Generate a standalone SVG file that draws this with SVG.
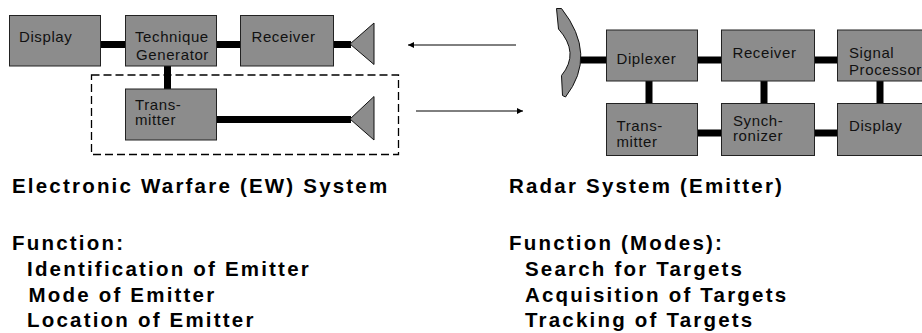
<svg xmlns="http://www.w3.org/2000/svg" width="922" height="333" viewBox="0 0 922 333">
<style>
.box{fill:#8c8c8c;stroke:#222;stroke-width:1}
.ant{fill:#8c8c8c;stroke:#111;stroke-width:1}
.lbl{font-family:"Liberation Sans",Arial,sans-serif;font-size:15px;fill:#111;letter-spacing:0.6px}
.wire{stroke:#000;stroke-width:7;fill:none}
.thin{stroke:#000;stroke-width:1;fill:none}
.big{font-family:"Liberation Sans",Arial,sans-serif;font-size:20.5px;font-weight:bold;fill:#000;letter-spacing:2.2px}
</style>
<defs>
<marker id="ah" viewBox="0 0 10 10" refX="10" refY="5" markerWidth="8" markerHeight="6" markerUnits="userSpaceOnUse" orient="auto"><path d="M0,0 L10,5 L0,10 Z" fill="#000"/></marker>
</defs>
<g id="connectors">
<line class="wire" x1="100" y1="44.5" x2="126" y2="44.5"/>
<line class="wire" x1="216" y1="44.5" x2="241" y2="44.5"/>
<line class="wire" x1="333" y1="44.5" x2="351" y2="44.5"/>
<line class="wire" x1="167.5" y1="66" x2="167.5" y2="89"/>
<line class="wire" x1="216" y1="119.5" x2="351" y2="119.5"/>
<rect x="91.5" y="75" width="307" height="79.5" fill="none" stroke="#000" stroke-width="1.3" stroke-dasharray="8,4"/>
<line class="thin" x1="516" y1="45" x2="408" y2="45" marker-end="url(#ah)"/>
<line class="thin" x1="416" y1="111" x2="523" y2="111" marker-end="url(#ah)"/>
<line class="wire" x1="578" y1="60" x2="607" y2="60"/>
<line class="wire" x1="697" y1="60" x2="722" y2="60"/>
<line class="wire" x1="814" y1="60" x2="838" y2="60"/>
<line class="wire" x1="697" y1="133" x2="722" y2="133"/>
<line class="wire" x1="814" y1="133" x2="838" y2="133"/>
<line class="wire" x1="649" y1="81" x2="649" y2="103"/>
<line class="wire" x1="764" y1="81" x2="764" y2="103"/>
<line class="wire" x1="880" y1="81" x2="880" y2="103"/>
</g>
<g id="ew-display"><rect class="box" x="9.5" y="15.5" width="91" height="50.5"/><text class="lbl" x="19" y="42">Display</text></g>
<g id="ew-technique"><rect class="box" x="125.5" y="15.5" width="91" height="50.5"/><text class="lbl" x="135" y="42">Technique</text><text class="lbl" x="136" y="59.5">Generator</text></g>
<g id="ew-receiver"><rect class="box" x="240.5" y="15.5" width="93" height="50.5"/><text class="lbl" x="251.5" y="42">Receiver</text></g>
<g id="ew-antenna-rx"><path class="ant" d="M350,44 L374,23 L374,64.5 Z"/></g>
<g id="ew-transmitter"><rect class="box" x="125.5" y="89" width="91" height="51"/><text class="lbl" x="135" y="109.5">Trans-</text><text class="lbl" x="135" y="125">mitter</text></g>
<g id="ew-antenna-tx"><path class="ant" d="M350,119 L374,96.5 L374,140 Z"/></g>
<g id="radar-dish"><path class="ant" d="M556.5,8.5 L561.5,8.5 Q598,55 565.5,97 L562.5,95.5 L561.5,75.5 Q580,53 558.5,29 Z"/></g>
<g id="radar-diplexer"><rect class="box" x="606.5" y="30" width="91" height="51"/><text class="lbl" x="616.5" y="64">Diplexer</text></g>
<g id="radar-receiver"><rect class="box" x="721.5" y="30" width="93" height="51"/><text class="lbl" x="732.5" y="57.5">Receiver</text></g>
<g id="radar-signal-processor"><rect class="box" x="837.5" y="30" width="95" height="51"/><text class="lbl" x="849" y="57.5">Signal</text><text class="lbl" x="849" y="74.5">Processor</text></g>
<g id="radar-transmitter"><rect class="box" x="606.5" y="103.5" width="91" height="52"/><text class="lbl" x="616.5" y="130.5">Trans-</text><text class="lbl" x="616.5" y="146.5">mitter</text></g>
<g id="radar-synchronizer"><rect class="box" x="721.5" y="103.5" width="93" height="52"/><text class="lbl" x="733" y="125.5">Synch-</text><text class="lbl" x="733" y="141">ronizer</text></g>
<g id="radar-display"><rect class="box" x="837.5" y="103.5" width="95" height="52"/><text class="lbl" x="849" y="130.5">Display</text></g>
<g id="captions">
<text class="big" x="12" y="193">Electronic Warfare (EW) System</text>
<text class="big" x="12" y="250">Function:</text>
<text class="big" x="27" y="275.5">Identification of Emitter</text>
<text class="big" x="28.5" y="301.5">Mode of Emitter</text>
<text class="big" x="27" y="327">Location of Emitter</text>
<text class="big" x="509" y="193">Radar System (Emitter)</text>
<text class="big" x="509" y="250">Function (Modes):</text>
<text class="big" x="525" y="275.5">Search for Targets</text>
<text class="big" x="525" y="301.5">Acquisition of Targets</text>
<text class="big" x="525" y="327">Tracking of Targets</text>
</g>
</svg>
